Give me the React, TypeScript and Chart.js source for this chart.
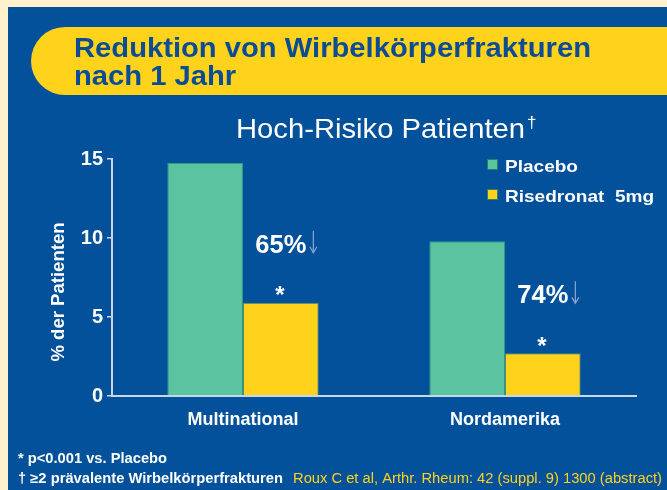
import React, { useEffect, useRef } from "react";
import { Chart, registerables } from "chart.js";

Chart.register(...registerables);

const categories = ["Multinational", "Nordamerika"];
const seriesNames = ["Placebo", "Risedronat  5mg"];
const placeboValues = [14.75, 9.8];
const risedronatValues = [5.9, 2.7];
const reductionLabels = ["65%", "74%"];
const significanceMarks = ["*", "*"];
const yMin = 0;
const yMax = 15;
const yStep = 5;
const titleLines = ["Reduktion von Wirbelkörperfrakturen", "nach 1 Jahr"];
const subtitleText = "Hoch-Risiko Patienten";
const subtitleMark = "†";
const yAxisTitle = "% der Patienten";
const footnoteLines = ["* p<0.001 vs. Placebo", "† ≥2 prävalente Wirbelkörperfrakturen"];
const citationText = "Roux C et al, Arthr. Rheum: 42 (suppl. 9) 1300 (abstract)";

const W = 667;
const H = 490;
const FONT = "'Liberation Sans', Arial, Helvetica, sans-serif";
const CREAM = "#FFF1CC";
const BLUE = "#03519A";
const YELLOW = "#FFD31C";
const TEAL = "#5BC3A0";
const TITLE_BLUE = "#0B4C94";
const AXIS = "#C9D6EA";
const ARROW = "#8FA2D2";
const WHITE = "#FFFFFF";

function drawFit(ctx: CanvasRenderingContext2D, text: string, x: number, y: number, w: number, align: CanvasTextAlign = "left", sxForce?: number) {
  const m = ctx.measureText(text).width;
  const sx = sxForce ?? w / m;
  ctx.save();
  ctx.translate(x, y);
  ctx.scale(sx, 1);
  ctx.textAlign = align;
  ctx.fillText(text, 0, 0);
  ctx.restore();
  return sx;
}

const decorPlugin = {
  id: "decor",
  beforeDraw(chart: any) {
    const ctx: CanvasRenderingContext2D = chart.ctx;
    ctx.save();
    ctx.fillStyle = CREAM;
    ctx.fillRect(0, 0, W, H);
    ctx.fillStyle = BLUE;
    ctx.fillRect(8, 7, W - 8, H - 7);

    // banner
    const top = 27, bot = 95, left = 31;
    const r = (bot - top) / 2;
    ctx.fillStyle = YELLOW;
    ctx.beginPath();
    ctx.moveTo(W, top);
    ctx.lineTo(left + r, top);
    ctx.arc(left + r, top + r, r, -Math.PI / 2, Math.PI / 2, true);
    ctx.lineTo(W, bot);
    ctx.closePath();
    ctx.fill();

    ctx.textBaseline = "alphabetic";
    ctx.fillStyle = TITLE_BLUE;
    ctx.font = `bold 28px ${FONT}`;
    const sx = drawFit(ctx, titleLines[0], 74, 57, 517);
    drawFit(ctx, titleLines[1], 74, 85, 0, "left", sx);

    // subtitle
    ctx.fillStyle = WHITE;
    ctx.font = `28px ${FONT}`;
    drawFit(ctx, subtitleText, 236, 138, 289);
    ctx.font = `17px ${FONT}`;
    ctx.textAlign = "left";
    ctx.fillText(subtitleMark, 527, 128);

    // footnotes
    ctx.font = `bold 14px ${FONT}`;
    drawFit(ctx, footnoteLines[0], 18, 463, 149);
    drawFit(ctx, footnoteLines[1], 18, 483, 265);
    ctx.fillStyle = YELLOW;
    ctx.font = `14px ${FONT}`;
    drawFit(ctx, citationText, 293, 483, 369);
    ctx.restore();
  },
  afterDatasetsDraw(chart: any) {
    const ctx: CanvasRenderingContext2D = chart.ctx;
    ctx.save();
    const meta = chart.getDatasetMeta(1);
    meta.data.forEach((bar: any, i: number) => {
      const cx = bar.x;
      const base = bar.y - 50;
      ctx.fillStyle = WHITE;
      ctx.font = `bold 25px ${FONT}`;
      ctx.textBaseline = "alphabetic";
      drawFit(ctx, reductionLabels[i], cx, base, 51, "center");
      // arrow
      const ax = cx + 25.5 + 7;
      ctx.strokeStyle = ARROW;
      ctx.lineWidth = 1.2;
      ctx.beginPath();
      ctx.moveTo(ax, base - 22);
      ctx.lineTo(ax, base);
      ctx.moveTo(ax - 3.5, base - 6);
      ctx.lineTo(ax, base);
      ctx.lineTo(ax + 3.5, base - 6);
      ctx.stroke();
      // star
      ctx.font = `bold 24px ${FONT}`;
      ctx.textAlign = "center";
      ctx.textBaseline = "middle";
      ctx.fillText(significanceMarks[i], cx - 1, bar.y - 6);
    });

    // legend
    const colors = [TEAL, YELLOW];
    const ys = [159, 189];
    const widths = [73, 149];
    ctx.textBaseline = "alphabetic";
    seriesNames.forEach((name, i) => {
      ctx.fillStyle = colors[i];
      ctx.fillRect(487, ys[i], 11, 11);
      ctx.strokeStyle = "rgba(30,120,110,0.9)";
      ctx.lineWidth = 1;
      ctx.strokeRect(487.5, ys[i] + 0.5, 10, 10);
      ctx.fillStyle = WHITE;
      ctx.font = `bold 17px ${FONT}`;
      drawFit(ctx, name, 505, ys[i] + 12.5, widths[i]);
    });

    // y axis title
    ctx.save();
    ctx.translate(59, 292);
    ctx.rotate(-Math.PI / 2);
    ctx.fillStyle = WHITE;
    ctx.font = `bold 18px ${FONT}`;
    ctx.textBaseline = "middle";
    drawFit(ctx, yAxisTitle, 0, 0, 139, "center");
    ctx.restore();

    ctx.restore();
  },
};

export default function App() {
  const ref = useRef<HTMLCanvasElement | null>(null);
  useEffect(() => {
    if (!ref.current) return;
    Chart.defaults.font.family = FONT;
    const chart = new Chart(ref.current, {
      type: "bar",
      data: {
        labels: categories,
        datasets: [
          {
            label: seriesNames[0],
            data: placeboValues,
            backgroundColor: TEAL,
            borderColor: "#2E9A86",
            borderWidth: 1,
            categoryPercentage: 0.578,
            barPercentage: 1,
          },
          {
            label: seriesNames[1],
            data: risedronatValues,
            backgroundColor: YELLOW,
            borderColor: "#4F8A74",
            borderWidth: 1,
            categoryPercentage: 0.578,
            barPercentage: 1,
          },
        ],
      },
      options: {
        responsive: false,
        animation: false,
        layout: { padding: { left: 72, right: 31, top: 159, bottom: 50 } },
        plugins: {
          legend: { display: false },
          title: { display: false },
          tooltip: { enabled: false },
        },
        scales: {
          x: {
            grid: { display: false, drawTicks: false },
            border: { display: true, color: AXIS, width: 2 },
            ticks: {
              color: WHITE,
              font: { family: FONT, size: 18, weight: "bold" },
              padding: 13,
              maxRotation: 0,
            },
            afterFit: (s: any) => {
              s.height = 44;
            },
          },
          y: {
            min: yMin,
            max: yMax,
            grid: { drawOnChartArea: false, drawTicks: true, tickLength: 5, color: AXIS, lineWidth: 1.5 },
            border: { display: true, color: AXIS, width: 2 },
            ticks: {
              stepSize: yStep,
              color: WHITE,
              font: { family: FONT, size: 20, weight: "bold" },
              padding: 4,
            },
            afterFit: (s: any) => {
              s.width = 40;
            },
          },
        },
      },
      plugins: [decorPlugin],
    } as any);
    return () => chart.destroy();
  }, []);
  return (
    <div style={{ position: "absolute", left: 0, top: 0, width: W, height: H }}>
      <canvas ref={ref} width={W} height={H} style={{ display: "block" }} />
    </div>
  );
}
